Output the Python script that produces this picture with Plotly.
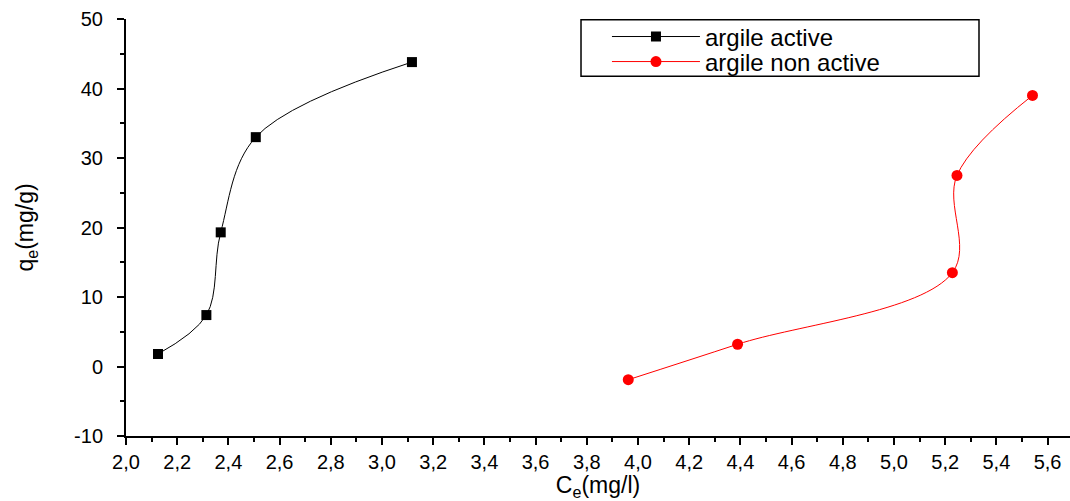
import plotly.graph_objects as go

# ---- data ----
ce_active = [2.125, 2.314, 2.370, 2.507, 3.117]
qe_active = [1.8, 7.4, 19.3, 33.0, 43.8]

ce_non_active = [3.962, 4.389, 5.228, 5.246, 5.541]
qe_non_active = [-1.9, 3.2, 13.5, 27.5, 39.0]

x_tick_vals = [2.0, 2.2, 2.4, 2.6, 2.8, 3.0, 3.2, 3.4, 3.6, 3.8, 4.0, 4.2, 4.4, 4.6, 4.8, 5.0, 5.2, 5.4, 5.6]
x_tick_text = ["2,0", "2,2", "2,4", "2,6", "2,8", "3,0", "3,2", "3,4", "3,6", "3,8", "4,0", "4,2", "4,4", "4,6", "4,8", "5,0", "5,2", "5,4", "5,6"]
y_tick_vals = [-10, 0, 10, 20, 30, 40, 50]
y_tick_text = ["-10", "0", "10", "20", "30", "40", "50"]

FONT = "Liberation Sans, Arial, sans-serif"

fig = go.Figure()
fig.add_trace(go.Scatter(
    x=ce_active, y=qe_active, name="argile active",
    mode="lines+markers",
    line=dict(color="black", width=1, shape="spline", smoothing=1.0),
    marker=dict(symbol="square", size=10, color="black"),
    legend="legend",
))
fig.add_trace(go.Scatter(
    x=ce_non_active, y=qe_non_active, name="argile non active",
    mode="lines+markers",
    line=dict(color="red", width=1, shape="spline", smoothing=1.0),
    marker=dict(symbol="circle", size=11, color="red"),
    legend="legend2",
))

# legend frame drawn as a rectangle (paper coords)
fig.add_shape(type="rect", xref="paper", yref="paper",
              x0=0.482, x1=0.9036, y0=0.863, y1=0.998,
              line=dict(color="black", width=1.5), fillcolor="rgba(0,0,0,0)", layer="above")

legend_common = dict(
    xanchor="left", yanchor="middle",
    borderwidth=0, bgcolor="rgba(0,0,0,0)",
    font=dict(family=FONT, size=24, color="black"),
    itemwidth=88, valign="middle",
)

fig.update_layout(
    width=1070, height=501,
    margin=dict(l=126, r=0, t=19, b=65),
    plot_bgcolor="white", paper_bgcolor="white",
    font=dict(family=FONT, size=20, color="black"),
    showlegend=True,
    legend=dict(x=0.5095, y=0.957, **legend_common),
    legend2=dict(x=0.5095, y=0.897, **legend_common),
)

fig.update_xaxes(
    range=[2.0, 5.6875],
    tickvals=x_tick_vals, ticktext=x_tick_text,
    ticks="outside", ticklen=7, tickwidth=2, tickcolor="black",
    minor=dict(ticks="outside", ticklen=4, tickwidth=2, tickcolor="black", dtick=0.1, showgrid=False),
    showline=True, linecolor="black", linewidth=2,
    showgrid=False, zeroline=False,
    tickfont=dict(family=FONT, size=20),
    title=dict(text="C<sub>e</sub>(mg/l)", font=dict(family=FONT, size=23), standoff=6),
)
fig.update_yaxes(
    range=[-10, 50],
    tickvals=y_tick_vals, ticktext=y_tick_text,
    ticks="outside", ticklen=7, tickwidth=2, tickcolor="black",
    minor=dict(ticks="outside", ticklen=4, tickwidth=2, tickcolor="black", dtick=5, showgrid=False),
    showline=True, linecolor="black", linewidth=2,
    showgrid=False, zeroline=False,
    ticklabelstandoff=10,
    tickfont=dict(family=FONT, size=20),
    title=dict(text="q<sub>e</sub>(mg/g)", font=dict(family=FONT, size=23), standoff=34),
)

fig.write_html("out.html")
